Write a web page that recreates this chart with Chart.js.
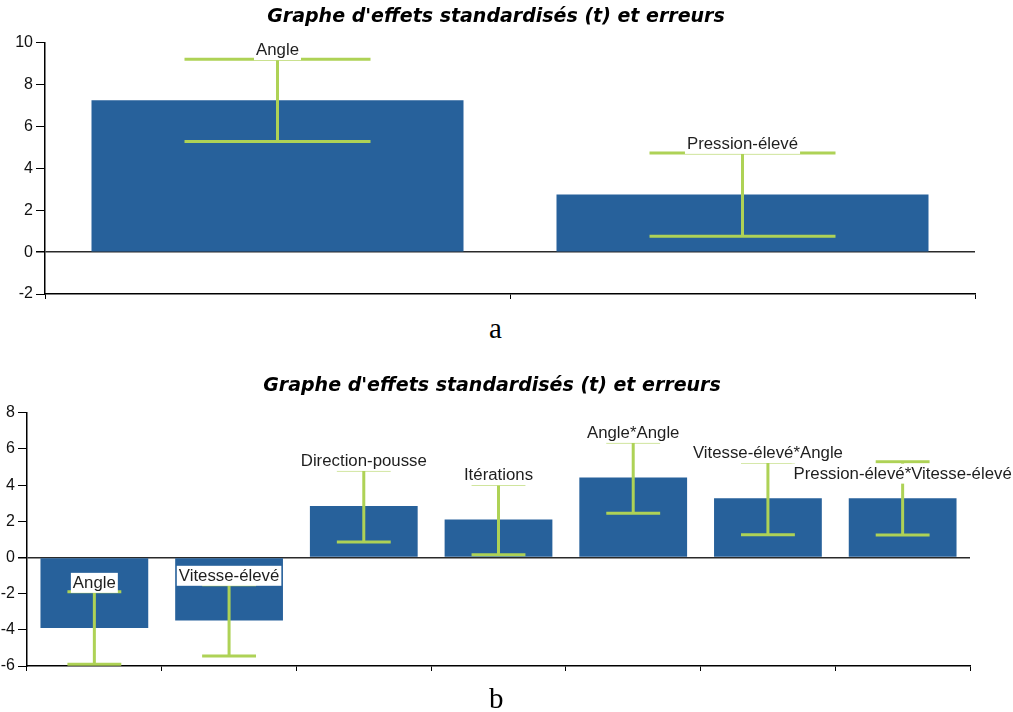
<!DOCTYPE html>
<html>
<head>
<meta charset="utf-8">
<script src="https://cdn.jsdelivr.net/npm/chart.js@4.4.1/dist/chart.umd.min.js"></script>
<style>
  body { margin: 0; background: #fff; width: 1013px; height: 712px; position: relative; overflow: hidden; }
  .zone { position: absolute; left: 0; width: 1013px; }
  .legende { position: absolute; font-family: "Liberation Serif", "Times New Roman", serif; font-size: 29px; line-height: 29px; color: #000; }
</style>
</head>
<body>
<div class="zone" style="top:0;height:310px"><canvas id="grapheA"></canvas></div>
<div class="legende" style="left:489px;top:314px">a</div>
<div class="zone" style="top:370px;height:320px"><canvas id="grapheB"></canvas></div>
<div class="legende" style="left:489px;top:684px">b</div>

<script>
// titre commun aux deux graphes
const titre = "Graphe d'effets standardisés (t) et erreurs";

// graphe a
const facteursA = ["Angle", "Pression-élevé"];
const effetsA = [7.25, 2.75];
const erreursA = [1.97, 1.99];
const graduationsA = [-2, 0, 2, 4, 6, 8, 10];

// graphe b
const facteursB = ["Angle", "Vitesse-élevé", "Direction-pousse", "Itérations",
                   "Angle*Angle", "Vitesse-élevé*Angle", "Pression-élevé*Vitesse-élevé"];
const effetsB = [-3.9, -3.48, 2.85, 2.1, 4.42, 3.27, 3.27];
const erreursB = [2.0, 1.97, 1.99, 1.95, 1.97, 2.01, 2.03];
const graduationsB = [-6, -4, -2, 0, 2, 4, 6, 8];

const bleu = "#27619B";
const vert = "#AED256";

// barres d'erreur + étiquettes (fond blanc) au-dessus de chaque barre
const barresErreur = {
    id: "barresErreur",
    afterDatasetsDraw(chart) {
        const ctx = chart.ctx;
        const ds = chart.data.datasets[0];
        const meta = chart.getDatasetMeta(0);
        const y = chart.scales.y;
        const hauts = [];

        ctx.save();
        ctx.strokeStyle = vert;
        ctx.lineWidth = 3;
        ctx.lineCap = "butt";
        meta.data.forEach((barre, i) => {
            const v = ds.data[i], e = ds.erreurs[i];
            const yHaut = y.getPixelForValue(v + e);
            const yBas = y.getPixelForValue(v - e);
            const demi = barre.width / 4;
            hauts.push(yHaut);
            ctx.beginPath();
            ctx.moveTo(barre.x, yHaut); ctx.lineTo(barre.x, yBas);
            ctx.moveTo(barre.x - demi, yHaut); ctx.lineTo(barre.x + demi, yHaut);
            ctx.moveTo(barre.x - demi, yBas); ctx.lineTo(barre.x + demi, yBas);
            ctx.stroke();
        });

        // étiquettes, descendues sous la barre d'erreur si elles se chevauchent
        const etir = 1.05;
        ctx.font = "16px 'Liberation Sans', Arial, sans-serif";
        ctx.textBaseline = "alphabetic";
        ctx.textAlign = "left";
        const places = [];
        meta.data.forEach((barre, i) => {
            const txt = chart.data.labels[i];
            const w = ctx.measureText(txt).width * etir + 4;
            const h = 20;
            let r = { x: barre.x - w / 2, y: hauts[i] + 1 - h, w: w, h: h };
            const chevauche = places.some(p => r.x < p.x + p.w && p.x < r.x + r.w && r.y < p.y + p.h && p.y < r.y + r.h);
            if (chevauche) r.y = hauts[i] + 2;
            places.push(r);
            ctx.fillStyle = "#fff";
            ctx.fillRect(r.x, r.y, r.w, r.h);
            ctx.save();
            ctx.translate(r.x + 2, r.y + h - 5);
            ctx.scale(etir, 1);
            ctx.fillStyle = "#1e1e1e";
            ctx.fillText(txt, 0, 0);
            ctx.restore();
        });
        ctx.restore();
    }
};

function graphe(id, facteurs, effets, erreurs, graduations, mise) {
    new Chart(document.getElementById(id), {
        type: "bar",
        data: {
            labels: facteurs,
            datasets: [{
                data: effets,
                erreurs: erreurs,
                backgroundColor: bleu,
                borderWidth: 0,
                barPercentage: 0.8,
                categoryPercentage: 1.0
            }]
        },
        options: {
            responsive: true,
            maintainAspectRatio: false,
            animation: false,
            layout: { padding: mise.padding },
            plugins: {
                legend: { display: false },
                tooltip: { enabled: false },
                title: {
                    display: true,
                    text: titre,
                    color: "#000",
                    font: { family: "'DejaVu Sans', Verdana, sans-serif", size: 19, weight: "bold", style: "italic" },
                    padding: mise.titrePadding
                }
            },
            scales: {
                x: {
                    offset: true,
                    grid: { display: true, drawOnChartArea: false, offset: true, tickLength: 5, tickColor: "#000", lineWidth: 1 },
                    border: { display: true, color: "#000", width: 1.5 },
                    ticks: { display: false },
                    afterFit: s => { s.height = 6; }
                },
                y: {
                    min: graduations[0],
                    max: graduations[graduations.length - 1],
                    afterBuildTicks: s => { s.ticks = graduations.map(v => ({ value: v })); },
                    grid: {
                        drawOnChartArea: true,
                        color: c => (c.tick && c.tick.value === 0 ? "#2a2a2a" : "transparent"),
                        lineWidth: c => (c.tick && c.tick.value === 0 ? 1.5 : 1),
                        tickColor: "#000",
                        tickLength: 9
                    },
                    border: { display: true, color: "#000", width: 1.5 },
                    ticks: {
                        color: "#111",
                        padding: 3,
                        font: { family: "'Liberation Sans', Arial, sans-serif", size: 16 }
                    },
                    afterFit: s => { s.width = mise.largeurY; }
                },
                // marge vide à droite (recentre le titre)
                marge: {
                    type: "linear",
                    position: "right",
                    display: true,
                    grid: { display: false },
                    border: { display: false },
                    ticks: { display: false },
                    afterFit: s => { s.width = mise.margeDroite; }
                }
            }
        },
        plugins: [barresErreur]
    });
}

graphe("grapheA", facteursA, effetsA, erreursA, graduationsA, {
    padding: { left: 12, right: 33, top: 0, bottom: 10 },
    titrePadding: { top: 6, bottom: 14 },
    largeurY: 33,
    margeDroite: 5
});

graphe("grapheB", facteursB, effetsB, erreursB, graduationsB, {
    padding: { left: 0, right: 29, top: 0, bottom: 18 },
    titrePadding: { top: 5, bottom: 15 },
    largeurY: 27,
    margeDroite: 14
});
</script>
</body>
</html>
